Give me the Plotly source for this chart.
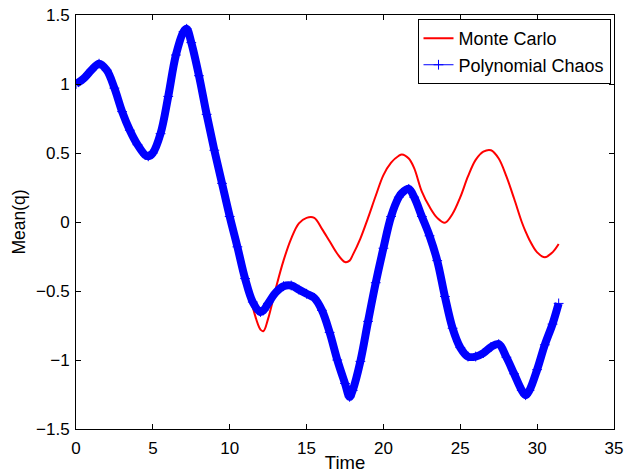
import plotly.graph_objects as go

time = [0.0, 0.5, 1.0, 1.5, 2.0, 2.5, 3.0, 3.5, 4.0, 4.5, 4.7, 5.0, 5.5, 6.0, 6.5, 7.0,
        7.2, 7.5, 8.0, 8.5, 9.0, 9.5, 10.0, 10.5, 11.0, 11.5, 12.0, 12.2, 12.5, 13.0,
        13.5, 14.0, 14.5, 15.0, 15.5, 16.0, 16.5, 17.0, 17.5, 17.8, 18.0, 18.5, 19.0,
        19.5, 20.0, 20.5, 21.0, 21.2, 21.65, 22.0, 22.5, 23.0, 23.5, 24.0, 24.5, 25.0,
        25.5, 26.0, 26.5, 27.0, 27.5, 28.0, 28.5, 29.0, 29.25, 29.5, 30.0, 30.5, 31.0,
        31.4]

monte_carlo = [1.00, 1.04, 1.10, 1.147, 1.10, 0.97, 0.80, 0.665, 0.56, 0.485, 0.476, 0.50,
               0.64, 0.91, 1.21, 1.38, 1.40, 1.30, 1.06, 0.78, 0.52, 0.28, 0.04, -0.18,
               -0.42, -0.62, -0.78, -0.79, -0.70, -0.48, -0.28, -0.12, -0.01, 0.03, 0.03,
               -0.05, -0.14, -0.23, -0.29, -0.28, -0.24, -0.12, 0.03, 0.19, 0.34, 0.43,
               0.48, 0.49, 0.46, 0.39, 0.22, 0.11, 0.03, -0.005, 0.06, 0.18, 0.33, 0.45,
               0.51, 0.52, 0.46, 0.33, 0.17, 0.0, -0.07, -0.13, -0.22, -0.255, -0.22, -0.16]

poly_chaos = [1.00, 1.04, 1.10, 1.147, 1.10, 0.97, 0.80, 0.665, 0.56, 0.485, 0.476, 0.50,
              0.64, 0.91, 1.21, 1.38, 1.40, 1.30, 1.06, 0.78, 0.52, 0.28, 0.04, -0.18,
              -0.41, -0.58, -0.652, -0.64, -0.59, -0.51, -0.465, -0.46, -0.49, -0.52,
              -0.55, -0.64, -0.80, -1.00, -1.17, -1.267, -1.22, -1.01, -0.72, -0.44,
              -0.19, 0.04, 0.18, 0.21, 0.24, 0.18, 0.04, -0.10, -0.28, -0.54, -0.77,
              -0.91, -0.975, -0.975, -0.95, -0.905, -0.885, -0.98, -1.10, -1.22, -1.255,
              -1.22, -1.07, -0.89, -0.74, -0.59]

x_ticks = [0, 5, 10, 15, 20, 25, 30, 35]
y_ticks = [-1.5, -1, -0.5, 0, 0.5, 1, 1.5]

FONT = "Liberation Sans, Arial, Helvetica, sans-serif"

fig = go.Figure()
fig.add_trace(go.Scatter(x=time, y=monte_carlo, mode="lines", name="Monte Carlo",
                         line=dict(color="#ff0000", width=2, shape="spline", smoothing=1.0)))
fig.add_trace(go.Scatter(x=time, y=poly_chaos, mode="lines", showlegend=False,
                         line=dict(color="#0000ff", width=8, shape="spline", smoothing=1.0),
                         hoverinfo="skip"))
fig.add_trace(go.Scatter(x=time, y=poly_chaos, mode="lines+markers", name="Polynomial Chaos",
                         line=dict(color="#0000ff", width=1, shape="spline", smoothing=1.0),
                         marker=dict(symbol="cross-thin", size=7, color="#0000ff",
                                     line=dict(color="#0000ff", width=1))))

axis_common = dict(showgrid=False, zeroline=False, showline=True, linecolor="black",
                   linewidth=1, mirror="ticks", ticks="inside", ticklen=5,
                   tickcolor="black", automargin=False,
                   tickfont=dict(family=FONT, size=17, color="black"))

fig.update_layout(
    width=626, height=473,
    margin=dict(l=76, r=12, t=15, b=44),
    paper_bgcolor="white", plot_bgcolor="white",
    font=dict(family=FONT, size=17, color="black"),
    xaxis=dict(range=[0, 35], tickvals=x_ticks, ticklabelstandoff=4,
               title=dict(text="Time", font=dict(family=FONT, size=18.5), standoff=0),
               **axis_common),
    yaxis=dict(range=[-1.5, 1.5], tickvals=y_ticks, ticklabelstandoff=2,
               title=dict(text="Mean(q)", font=dict(family=FONT, size=17.5), standoff=5),
               **axis_common),
    legend=dict(x=0.9935, y=0.99, xanchor="right", yanchor="top",
                bgcolor="white", bordercolor="black", borderwidth=1,
                font=dict(family=FONT, size=18), tracegroupgap=0,
                itemwidth=30),
)

fig.write_html("out.html")
